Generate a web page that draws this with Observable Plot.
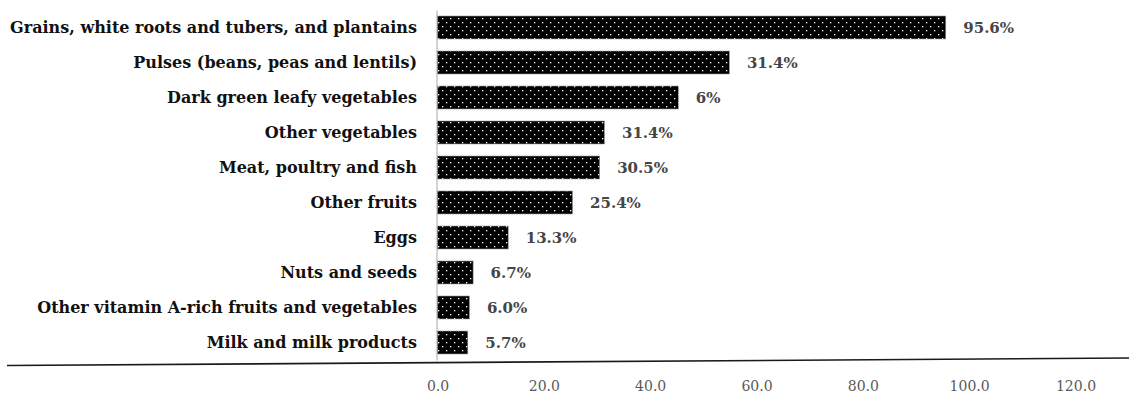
<!DOCTYPE html>
<html>
<head>
<meta charset="utf-8">
<script src="https://cdn.jsdelivr.net/npm/d3@7"></script>
<script src="https://cdn.jsdelivr.net/npm/@observablehq/plot@0.6"></script>
<style>
  html, body { margin: 0; padding: 0; background: #fff; }
  #chart svg { display: block; }
</style>
</head>
<body>
<div id="chart"></div>
<script>
const categories = [
  "Grains, white roots and tubers, and plantains",
  "Pulses (beans, peas and lentils)",
  "Dark green leafy vegetables",
  "Other vegetables",
  "Meat, poultry and fish",
  "Other fruits",
  "Eggs",
  "Nuts and seeds",
  "Other vitamin A-rich fruits and vegetables",
  "Milk and milk products"
];
// bar lengths as drawn in the picture
const values = [95.6, 54.9, 45.3, 31.4, 30.5, 25.4, 13.3, 6.7, 6.0, 5.7];
// printed labels as shown in the picture
const labels = ["95.6%", "31.4%", "6%", "31.4%", "30.5%", "25.4%", "13.3%", "6.7%", "6.0%", "5.7%"];
const xTicks = [0, 20, 40, 60, 80, 100, 120];

const data = categories.map((c, i) => ({cat: c, value: values[i], label: labels[i]}));

const W = 1129, H = 396;
const mL = 437.5, mR = 53.5, mT = 10.5, mB = 35.5;

// pattern definitions mark
const patternDefs = () => {
  const g = d3.create("svg:g");
  const p = g.append("defs").append("pattern")
    .attr("id", "dots")
    .attr("patternUnits", "userSpaceOnUse")
    .attr("width", 8).attr("height", 8);
  p.append("rect").attr("width", 8).attr("height", 8).attr("fill", "#000");
  p.append("rect").attr("x", 2).attr("y", 2).attr("width", 1.3).attr("height", 1.3).attr("fill", "#fff");
  p.append("rect").attr("x", 6).attr("y", 6).attr("width", 1.3).attr("height", 1.3).attr("fill", "#fff");
  return g.node();
};

// decorative baseline (slightly tilted, as in the reference)
const baseline = (index, scales, values, dims) => {
  const y0 = dims.height - dims.marginBottom;
  return d3.create("svg:line")
    .attr("x1", 7).attr("y1", y0 + 5)
    .attr("x2", dims.width).attr("y2", y0 - 2.5)
    .attr("stroke", "#1a1a1a").attr("stroke-width", 1.6)
    .node();
};

const chart = Plot.plot({
  width: W,
  height: H,
  marginLeft: mL,
  marginRight: mR,
  marginTop: mT,
  marginBottom: mB,
  style: {fontFamily: "'DejaVu Serif', serif", background: "#fff"},
  x: {domain: [0, 120], ticks: xTicks},
  y: {domain: categories, paddingInner: 0.33, paddingOuter: 0.165},
  marks: [
    patternDefs,
    Plot.axisX({
      ticks: xTicks, tickSize: 0, tickPadding: 20, tickFormat: d3.format(".1f"),
      fontSize: 14, fill: "#595959", label: null
    }),
    Plot.axisY({
      tickSize: 0, tickPadding: 21, fontSize: 16, fontWeight: "bold",
      fill: "#111", label: null
    }),
    Plot.ruleX([0], {stroke: "#d4d4d4", strokeWidth: 2, dx: -1}),
    Plot.barX(data, {x: "value", y: "cat", fill: "url(#dots)", stroke: "#9a9a9a", strokeWidth: 0.6}),
    Plot.text(data, {
      x: "value", y: "cat", text: "label", textAnchor: "start", dx: 17,
      fontSize: 15, fontWeight: "bold", fill: "#454545"
    }),
    baseline
  ]
});

document.getElementById("chart").appendChild(chart);
</script>
</body>
</html>
